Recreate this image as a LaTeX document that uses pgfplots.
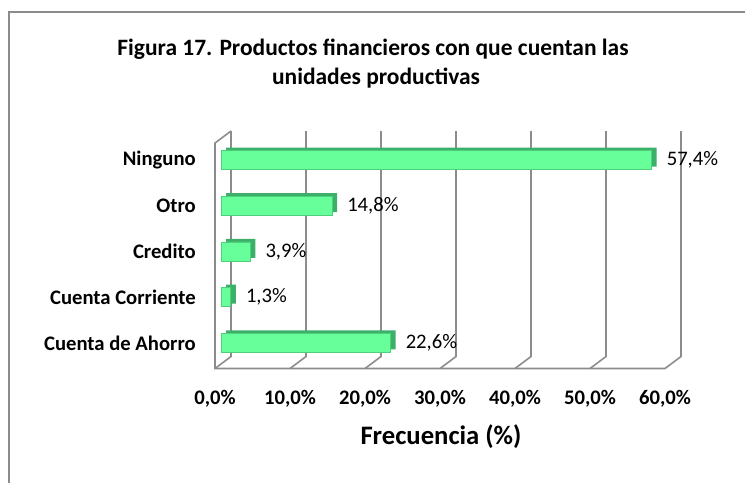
\documentclass[border=0pt]{standalone}
\usepackage{pgfplots}
\pgfplotsset{compat=1.18}
\usepackage{fontspec}
\setmainfont{Carlito}
\definecolor{barfront}{RGB}{102,255,153}
\definecolor{barside}{RGB}{60,175,105}
\definecolor{gridc}{RGB}{140,140,140}
\begin{document}
\begin{tikzpicture}
\useasboundingbox (0,0) rectangle (558.75pt,362.25pt);
\draw[gridc, line width=1.5pt] (6.75pt,0) -- (6.75pt,353.25pt) -- (558.75pt,353.25pt);
\node[anchor=base, font=\bfseries\fontsize{17.6}{20}\selectfont] at (279.75pt,320.25pt) {Figura 17. Productos financieros con que cuentan las};
\node[anchor=base, font=\bfseries\fontsize{17.6}{20}\selectfont] at (282pt,298.5pt) {unidades productivas};
\node[font=\bfseries\fontsize{20}{24}\selectfont] at (330.75pt,34.5pt) {Frecuencia (\%)};
\begin{axis}[
  at={(165.75pt,89.25pt)}, anchor=south west,
  scale only axis, width=337.5pt, height=169.125pt,
  xmin=0, xmax=60, ymin=-0.46, ymax=4.47,
  axis line style={draw=none}, major tick length=0pt,
  xtick={0,10,20,30,40,50,60}, ytick={0,1,2,3,4},
  yticklabels={Cuenta de Ahorro,Cuenta Corriente,Credito,Otro,Ninguno},
  xticklabel={\pgfmathprintnumber[fixed,precision=1,fixed zerofill,use comma,assume math mode=true]{\tick}\%},
  xticklabel style={anchor=north, inner sep=0pt, xshift=-4.5pt, font=\bfseries\fontsize{15.5}{18}\selectfont},
  xticklabel shift=19.5pt,
  yticklabel style={anchor=east, inner sep=0pt, font=\bfseries\fontsize{15.5}{18}\selectfont},
  yticklabel shift=18.75pt,
  clip=false,
]
\pgfplotsinvokeforeach{0,10,20,30,40,50,60}{
  \draw[gridc, line width=1.2pt] ([xshift=-4.5pt,yshift=-3.375pt]axis cs:#1,-0.46) -- ([xshift=7.5pt,yshift=5.625pt]axis cs:#1,-0.46) -- ([xshift=7.5pt,yshift=5.625pt]axis cs:#1,4.47);
}
\draw[gridc, line width=1.2pt] ([xshift=-4.5pt,yshift=-3.375pt]axis cs:60,-0.46) -- ([xshift=-4.5pt,yshift=-3.375pt]axis cs:0,-0.46) -- ([xshift=-4.5pt,yshift=-3.375pt]axis cs:0,4.47) -- ([xshift=7.5pt,yshift=5.625pt]axis cs:0,4.47);
\addplot[xbar, bar width=14.25pt, fill=barside, draw=none, xshift=3.75pt, yshift=2.25pt] coordinates {
  (22.6,0) (1.3,1) (3.9,2) (14.8,3) (57.4,4)
};
\addplot[xbar, bar width=14.25pt, fill=barfront, draw=barside!60!barfront, line width=0.4pt,
  nodes near coords={\pgfmathprintnumber[fixed,precision=1,fixed zerofill,use comma,assume math mode=true]{\pgfplotspointmeta}\%},
  nodes near coords style={anchor=west, inner sep=0pt, xshift=11.25pt, text=black, font=\fontsize{15.5}{18}\selectfont}] coordinates {
  (22.6,0) (1.3,1) (3.9,2) (14.8,3) (57.4,4)
};
\end{axis}
\end{tikzpicture}
\end{document}
